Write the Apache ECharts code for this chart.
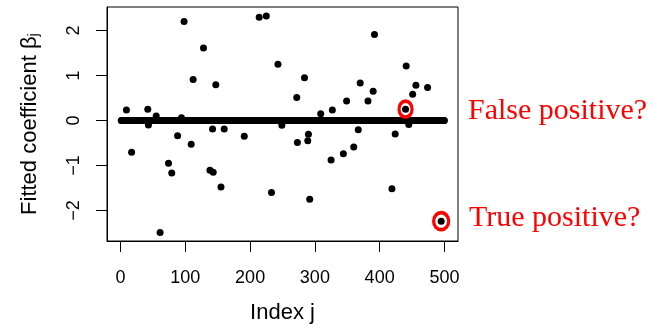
<!DOCTYPE html>
<html>
<head>
<meta charset="utf-8">
<script src="https://cdn.jsdelivr.net/npm/echarts@6/dist/echarts.min.js"></script>
<style>
  html, body { margin: 0; padding: 0; background: #fff; }
  #chart { width: 652px; height: 332px; }
</style>
</head>
<body>
<div id="chart"></div>
<script>
// Sparse lasso fit: 500 coefficients, all exactly zero except these.
const nTotal = 500;
const nzIndex = [9, 17, 42, 43, 55, 61, 74, 79, 88, 94, 98, 109, 112, 128, 138, 142, 143, 147, 155, 160,
  191, 214, 225, 233, 243, 249, 272, 273, 284, 289, 290, 292, 309, 325, 327, 344, 349, 360, 367, 370,
  382, 390, 392, 419, 424, 440, 441, 445, 451, 456, 474, 495];
const nzBeta = [0.23, -0.71, 0.25, -0.10, 0.10, -2.49, -0.95, -1.17, -0.34, 0.06, 2.20, -0.53, 0.91, 1.61, -1.11, -0.19, -1.15, 0.79, -1.48, -0.19,
  -0.35, 2.29, 2.32, -1.60, 1.25, -0.11, 0.51, -0.49, 0.95, -0.45, -0.31, -1.75, 0.15, -0.88, 0.23, -0.74, 0.43, -0.59, -0.21, 0.83,
  0.43, 0.65, 1.91, -1.52, -0.30, 0.25, 1.21, -0.09, 0.58, 0.78, 0.73, -2.24];

// Coefficients singled out with a red ring
const flaggedIndex = [440, 495];
const flaggedLabel = ['False positive?', 'True positive?'];

const xTicks = [0, 100, 200, 300, 400, 500];
const yTicks = [-2, -1, 0, 1, 2];

// Full coefficient vector
const beta = [];
for (let j = 1; j <= nTotal; j++) beta.push([j, 0]);
nzIndex.forEach((j, k) => { beta[j - 1] = [j, nzBeta[k]]; });
const flagged = flaggedIndex.map(j => beta[j - 1]);

const sans = 'Liberation Sans, Arial, sans-serif';
const serif = 'Liberation Serif, Times New Roman, serif';
const minus = v => String(v).replace('-', '\u2212');

const chart = echarts.init(document.getElementById('chart'), null, { renderer: 'canvas' });
chart.setOption({
  animation: false,
  backgroundColor: '#fff',
  grid: {
    left: 107, right: 194, top: 7, bottom: 91,
    show: true, borderColor: '#000', borderWidth: 1, backgroundColor: 'transparent'
  },
  xAxis: {
    type: 'value', min: -21, max: 521,
    splitLine: { show: false },
    axisLine: { show: true, onZero: false, lineStyle: { color: '#000', width: 1 } },
    axisTick: { show: true, customValues: xTicks, length: 11, lineStyle: { color: '#000' } },
    axisLabel: { customValues: xTicks, margin: 28, color: '#000', fontSize: 18, fontFamily: sans },
    name: 'Index j', nameLocation: 'middle', nameGap: 61,
    nameTextStyle: { color: '#000', fontSize: 22, fontFamily: sans }
  },
  yAxis: {
    type: 'value', min: -2.68, max: 2.52,
    splitLine: { show: false },
    axisLine: { show: true, onZero: false, lineStyle: { color: '#000', width: 1 } },
    axisTick: { show: true, customValues: yTicks, length: 11, lineStyle: { color: '#000' } },
    axisLabel: { customValues: yTicks, rotate: 90, margin: 24, color: '#000', fontSize: 18, fontFamily: sans,
      formatter: minus },
    name: 'Fitted coefficient \u03b2{sub|j}', nameLocation: 'middle', nameGap: 66, nameRotate: 90,
    nameTextStyle: { color: '#000', fontSize: 22, fontFamily: sans,
      rich: { sub: { fontSize: 15, fontFamily: sans, color: '#000', verticalAlign: 'bottom', padding: [8, 0, 0, 0] } } }
  },
  series: [
    {
      type: 'scatter', data: beta, symbol: 'circle', symbolSize: 7,
      itemStyle: { color: '#000', opacity: 1 }, silent: true
    },
    {
      type: 'scatter', data: flagged, symbol: 'circle',
      symbolSize: (v, p) => p.dataIndex === 0 ? [13, 16] : [15, 17],
      itemStyle: { color: 'transparent', borderColor: '#ff0000', borderWidth: 3.5, opacity: 1 },
      silent: true, z: 3
    }
  ],
  graphic: [
    { type: 'text', left: 468, top: 96, style: { text: flaggedLabel[0], font: '30px ' + serif, fill: '#ff0000' } },
    { type: 'text', left: 469, top: 203, style: { text: flaggedLabel[1], font: '30px ' + serif, fill: '#ff0000' } }
  ]
});
</script>
</body>
</html>
